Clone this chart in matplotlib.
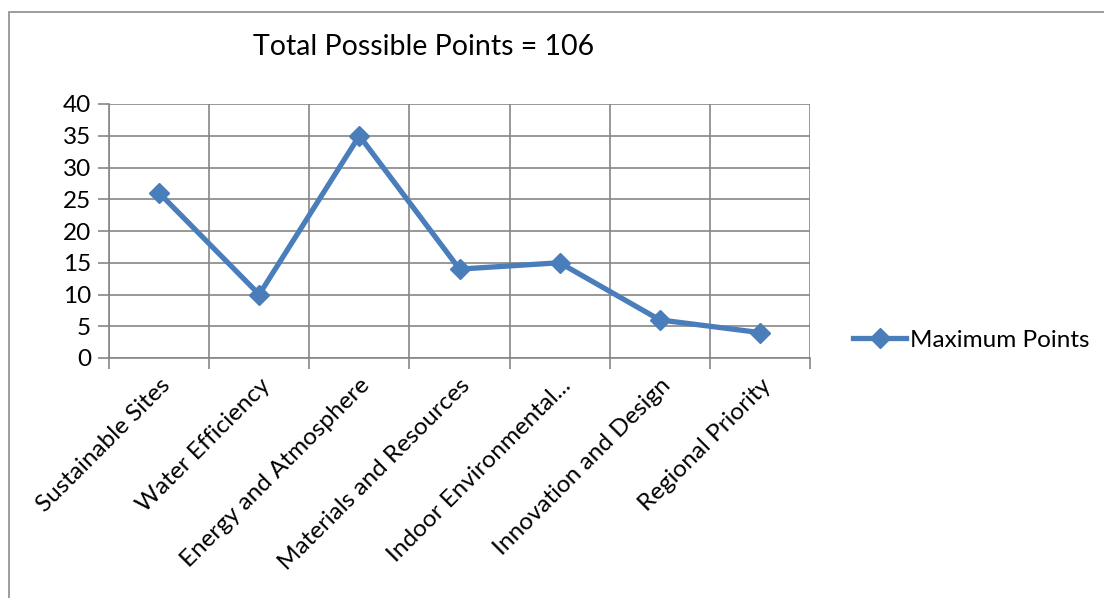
import matplotlib.pyplot as plt
from matplotlib.patches import Rectangle

categories = ["Sustainable Sites", "Water Efficiency", "Energy and Atmosphere",
              "Materials and Resources", "Indoor Environmental...",
              "Innovation and Design", "Regional Priority"]
max_points = [26, 10, 35, 14, 15, 6, 4]
y_ticks = [0, 5, 10, 15, 20, 25, 30, 35, 40]

plt.rcParams['font.family'] = ['Lato', 'DejaVu Sans']
line_color = '#4A7EBB'
grid_color = '#868686'

fig = plt.figure(figsize=(11.04, 5.98), dpi=100)
fig.patches.append(Rectangle((9 / 1104, -0.1), 1.2, 1 - 12 / 598 + 0.1,
                             transform=fig.transFigure, fill=False,
                             edgecolor='#8c8c8c', linewidth=1.2))

ax = fig.add_axes([109 / 1104, 1 - 358 / 598, (810 - 109) / 1104, (358 - 104) / 598])
x = range(len(categories))
ax.plot(x, max_points, color=line_color, linewidth=3.8, marker='D',
        markersize=10, label='Maximum Points', solid_joinstyle='round')

ax.set_xlim(-0.5, len(categories) - 0.5)
ax.set_ylim(0, 40)
ax.set_yticks(y_ticks)
ax.tick_params(axis='y', length=8, width=1.2, color=grid_color, labelsize=17.5, pad=5)
ax.grid(axis='y', color=grid_color, linewidth=1.2)

# category boundaries as vertical gridlines with tick marks below the axis
bounds = [i - 0.5 for i in range(len(categories) + 1)]
for b in bounds:
    ax.axvline(b, color=grid_color, linewidth=1.2, zorder=0.5)
ax.set_xticks(bounds, minor=True)
ax.tick_params(axis='x', which='minor', length=8, width=1.2, color=grid_color)
ax.set_xticks(list(x))
ax.set_xticklabels(categories, rotation=45, ha='right', va='top',
                   rotation_mode='anchor', fontsize=17.5)
ax.tick_params(axis='x', which='major', length=0, pad=12)
for s in ['top', 'right']:
    ax.spines[s].set_visible(False)
for s in ['left', 'bottom']:
    ax.spines[s].set_color(grid_color)
    ax.spines[s].set_linewidth(1.2)
ax.set_axisbelow(True)

fig.text(424 / 1104, 1 - 47 / 598, "Total Possible Points = 106", fontsize=20.5,
         ha='center', va='center')

leg = ax.legend(loc='center left', bbox_to_anchor=(1.03, 0.07), frameon=False,
                fontsize=17.5, handlelength=2.2, handletextpad=0.15)

fig.savefig("out.png", dpi=100)
